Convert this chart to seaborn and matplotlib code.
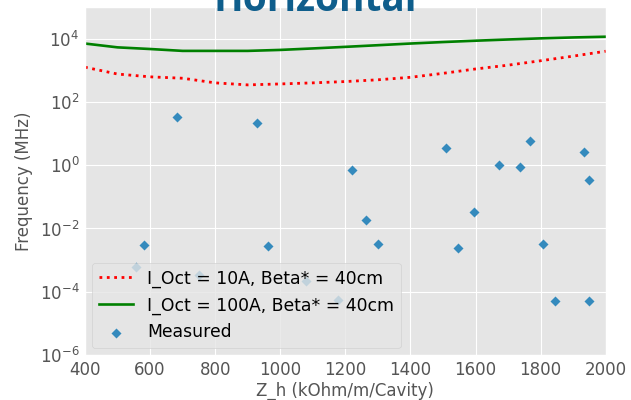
import matplotlib
matplotlib.use("Agg")
import matplotlib.pyplot as plt
import seaborn as sns
import numpy as np

# Impedance grid for the two octupole-current curves
z_grid = [400, 500, 600, 700, 800, 900, 1000, 1100, 1200, 1300, 1400,
          1500, 1600, 1700, 1800, 1900, 2000]
freq_10a = [1250, 760, 620, 560, 400, 345, 370, 400, 440, 500, 600,
            800, 1100, 1450, 2000, 2800, 4000]
freq_100a = [7000, 5300, 4700, 4100, 4100, 4100, 4400, 4900, 5500, 6200,
             7000, 7800, 8600, 9400, 10200, 10900, 11500]

# Measured instability points
meas_z = [556, 582, 684, 749, 929, 961, 1080, 1176, 1220, 1262, 1299,
          1508, 1545, 1594, 1671, 1737, 1766, 1806, 1843, 1932, 1948, 1950]
meas_f = [6e-4, 2.9e-3, 34, 3.3e-4, 22, 2.7e-3, 2.2e-4, 5.4e-5, 0.7, 0.018,
          3.2e-3, 3.5, 2.4e-3, 0.033, 1.05, 0.85, 6, 3.2e-3, 5.2e-5, 2.7,
          0.33, 5.2e-5]

x_ticks = [400, 600, 800, 1000, 1200, 1400, 1600, 1800, 2000]
y_ticks = [1e-6, 1e-4, 1e-2, 1e0, 1e2, 1e4]

plt.style.use("ggplot")
plt.rcParams["font.family"] = ["DejaVu Sans"]

fig = plt.figure(figsize=(6.31, 4.0), dpi=100)
ax = fig.add_axes([0.1347, 0.1125, 0.8253, 0.870])

sns.lineplot(x=z_grid, y=freq_10a, ax=ax, color="red", linestyle=":",
             linewidth=2.0, label="I_Oct = 10A, Beta* = 40cm")
sns.lineplot(x=z_grid, y=freq_100a, ax=ax, color="green", linestyle="-",
             linewidth=1.9, label="I_Oct = 100A, Beta* = 40cm")
sns.scatterplot(x=meas_z, y=meas_f, ax=ax, marker="D", color="#348ABD",
                s=26, linewidth=0, label="Measured", zorder=3)

ax.set_yscale("log")
ax.set_xlim(400, 2000)
ax.set_ylim(1e-6, 1e5)
ax.set_xticks(x_ticks)
ax.set_yticks(y_ticks)
ax.minorticks_off()
ax.tick_params(axis="both", length=0, pad=4, labelsize=12, colors="#555555")
ax.set_xlabel("Z_h (kOhm/m/Cavity)", fontsize=12, color="#555555", labelpad=2)
ax.set_ylabel("Frequency (MHz)", fontsize=12, color="#555555", labelpad=5)

leg = ax.legend(loc="lower left", fontsize=12.4, frameon=True, framealpha=0.8,
                borderaxespad=0.4)
leg.get_frame().set_edgecolor("#CCCCCC")
leg.set_zorder(5)

fig.text(0.499, 0.9725, "Horizontal", ha="center", va="baseline",
         fontsize=28, fontweight="bold", color="#0F5E8C",
         family=["Open Sans", "DejaVu Sans"], zorder=10)

fig.savefig("out.png", dpi=100, facecolor="white")
